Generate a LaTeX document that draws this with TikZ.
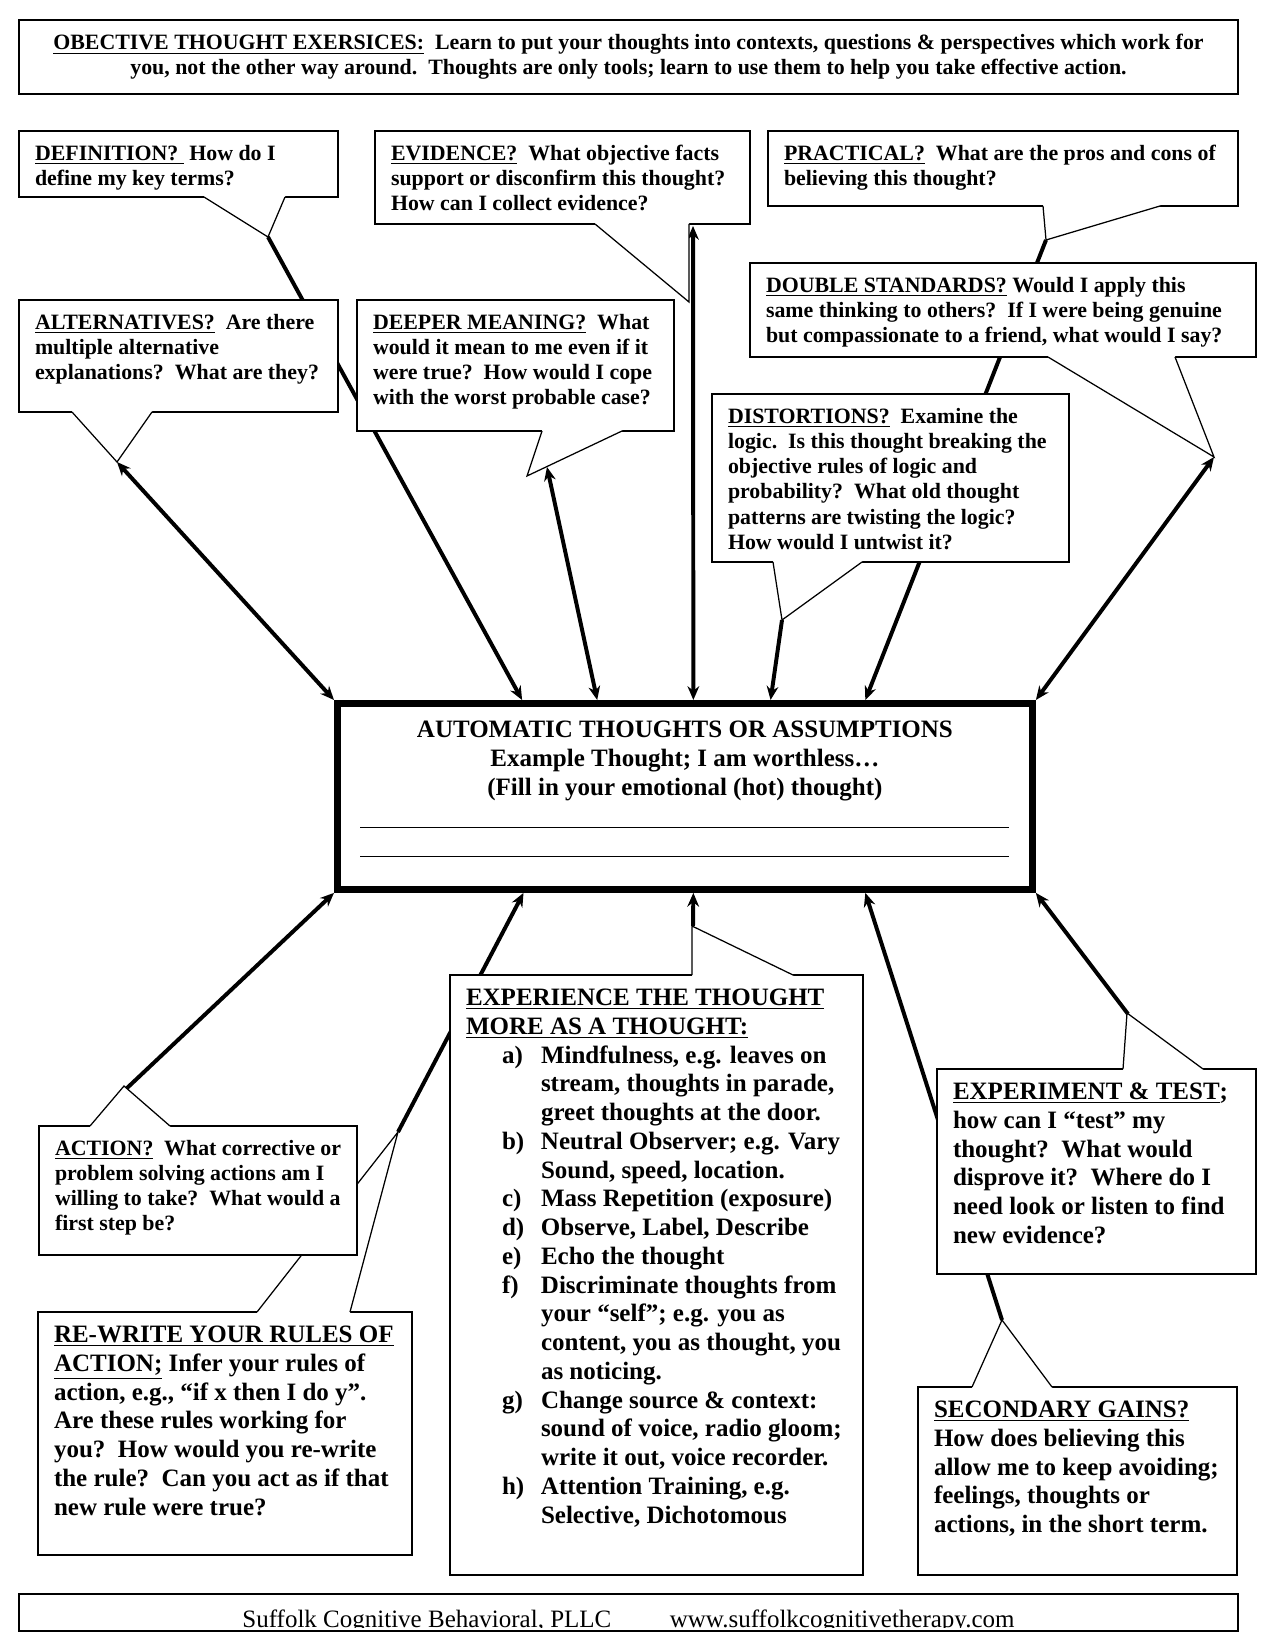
\documentclass[tikz,border=0pt]{standalone}
\usepackage{fontspec}
\setmainfont{Liberation Serif}
\usetikzlibrary{arrows.meta, calc}
\newlength{\px}
\setlength{\px}{0.48pt}
% text block of a callout: width, height (in px), text
\newcommand{\cbox}[3]{\parbox[t][#2\px][t]{#1\px}{\raggedright #3}}
% callout pointer: base point, tip, base point, shift into the box
\newcommand{\tail}[4]{%
  \fill[white] ($#1+#4$) -- #1 -- #2 -- #3 -- ($#3+#4$) -- cycle;
  \draw[tailline] #1 -- #2 -- #3;}
\tikzstyle{callout} = [rectangle, draw=black, line width=0.6pt, fill=white,
anchor=north west, outer sep=0pt,
inner xsep=7.68pt, inner ysep=6.72pt,
font=\fontsize{10.5pt}{12.1pt}\selectfont\bfseries]
\tikzstyle{bigcallout} = [callout, font=\fontsize{12pt}{13.8pt}\selectfont\bfseries]
\tikzstyle{autobox} = [rectangle, draw=black, line width=3.3pt, fill=white,
anchor=north west, inner xsep=7.68pt, inner ysep=8.64pt,
font=\fontsize{12pt}{13.8pt}\selectfont\bfseries]
\tikzstyle{headbox} = [rectangle, draw=black, line width=0.8pt,
minimum width=585.1pt, minimum height=35.5pt, align=center,
font=\fontsize{10.5pt}{12.1pt}\selectfont\bfseries]
\tikzstyle{tailline} = [line width=0.6pt]
\tikzstyle{arrow} = [line width=1.9pt, -{Stealth[length=6.6pt, width=5.6pt]}]
\tikzstyle{dblarrow} = [line width=1.9pt, {Stealth[length=6.6pt, width=5.6pt]}-{Stealth[length=6.6pt, width=5.6pt]}]

\begin{document}
\begin{tikzpicture}[x=0.48pt, y=-0.48pt]
\fill[white] (0,0) rectangle (1275,1650);
\useasboundingbox (0,0) rectangle (1275,1650);

\node (head) [headbox] at (628.5,57) {\underline{OBECTIVE THOUGHT EXERSICES:}\ \ Learn to put your thoughts into contexts, questions \& perspectives which work for\\
you, not the other way around.\ \ Thoughts are only tools; learn to use them to help you take effective action.};

% centre box
\node (auto) [autobox] at (334,700) {\cbox{663}{150}{\centering
AUTOMATIC THOUGHTS OR ASSUMPTIONS\\
Example Thought; I am worthless…\\
(Fill in your emotional (hot) thought)\\
\rule[-2pt]{649\px}{0.5pt}\\
\rule[-2pt]{649\px}{0.5pt}}};

% ends of the arrows at the callouts
\coordinate (altend) at (117,462);
\coordinate (defend) at (268,237);
\coordinate (deepend) at (547,467);
\coordinate (evend) at (693,226);
\coordinate (distend) at (782,620);
\coordinate (practend) at (1046,240);
\coordinate (dsend) at (1214,457);
\coordinate (actend) at (126,1089);
\coordinate (rwend) at (398,1132);
\coordinate (exprend) at (693,926);
\coordinate (secend) at (1002,1320);
\coordinate (exptend) at (1128,1014);

\draw [dblarrow] (altend) -- (auto.north west);
\draw [arrow] (defend) -- ($(auto.north west)!0.268!(auto.north east)$);
\draw [dblarrow] (deepend) -- ($(auto.north west)!0.375!(auto.north east)$);
\draw [dblarrow] (evend) -- ($(auto.north west)!0.512!(auto.north east)$);
\draw [arrow] (distend) -- ($(auto.north west)!0.622!(auto.north east)$);
\draw [arrow] (practend) -- ($(auto.north west)!0.757!(auto.north east)$);
\draw [dblarrow] (dsend) -- (auto.north east);
\draw [arrow] (actend) -- (auto.south west);
\draw [arrow] (rwend) -- ($(auto.south west)!0.270!(auto.south east)$);
\draw [arrow] (exprend) -- ($(auto.south west)!0.512!(auto.south east)$);
\draw [arrow] (secend) -- ($(auto.south west)!0.757!(auto.south east)$);
\draw [arrow] (exptend) -- (auto.south east);

% upper callouts
\node (defn) [callout] at (19,131) {\cbox{287}{38}{\underline{DEFINITION?\ }\ How do I\\
define my key terms?}};
\tail{(204,197)}{(268,237)}{(285,197)}{(0,-3)}

\node (evid) [callout] at (375,131) {\cbox{343}{65}{\underline{EVIDENCE?}\ \ What objective facts\\
support or disconfirm this thought?\\
How can I collect evidence?}};
\tail{(595,224)}{(689,302)}{(689,224)}{(0,-3)}

\node (pract) [callout] at (768,131) {\cbox{438}{47}{\underline{PRACTICAL?}\ \ What are the pros and cons of\\
believing this thought?}};
\tail{(1043,206)}{(1046,240)}{(1160,206)}{(0,-3)}

\node (dstd) [callout] at (750,263) {\cbox{474}{66}{\underline{DOUBLE STANDARDS?} Would I apply this\\
same thinking to others?\ \ If I were being genuine\\
but compassionate to a friend, what would I say?}};
\tail{(1048,357)}{(1214,457)}{(1175,357)}{(0,-3)}

\node (alter) [callout] at (19,300) {\cbox{287}{84}{\underline{ALTERNATIVES?}\ \ Are there\\
multiple alternative\\
explanations?\ \ What are they?}};
\tail{(72,412)}{(117,462)}{(152,412)}{(0,-3)}

\node (deep) [callout] at (357,300) {\cbox{285}{103}{\underline{DEEPER MEANING?}\ \ What\\
would it mean to me even if it\\
were true?\ \ How would I cope\\
with the worst probable case?}};
\tail{(542,431)}{(527,476)}{(622,431)}{(0,-3)}

\node (dist) [callout] at (712,394) {\cbox{325}{140}{\underline{DISTORTIONS?}\ \ Examine the\\
logic.\ \ Is this thought breaking the\\
objective rules of logic and\\
probability?\ \ What old thought\\
patterns are twisting the logic?\\
How would I untwist it?}};
\tail{(773,562)}{(782,620)}{(862,562)}{(0,-3)}

% lower callouts
\node (rewr) [bigcallout] at (38,1312) {\cbox{342}{215}{\underline{RE-WRITE YOUR RULES OF}\\
\underline{ACTION;} Infer your rules of\\
action, e.g., ``if x then I do y''.\\
Are these rules working for\\
you?\ \ How would you re-write\\
the rule?\ \ Can you act as if that\\
new rule were true?}};
\tail{(257,1312)}{(398,1132)}{(350,1312)}{(0,3)}

\node (act) [callout] at (39,1126) {\cbox{286}{101}{\underline{ACTION?}\ \ What corrective or\\
problem solving actions am I\\
willing to take?\ \ What would a\\
first step be?}};
\tail{(90,1126)}{(124,1086)}{(170,1126)}{(0,3)}

\node (expr) [bigcallout] at (450,975) {\cbox{381}{572}{\underline{EXPERIENCE THE THOUGHT}\\
\underline{MORE AS A THOUGHT:}\\
\begin{tabular}[t]{@{\hspace{36\px}}p{39\px}@{}l@{}}
a) & Mindfulness, e.g. leaves on\\
   & stream, thoughts in parade,\\
   & greet thoughts at the door.\\
b) & Neutral Observer; e.g. Vary\\
   & Sound, speed, location.\\
c) & Mass Repetition (exposure)\\
d) & Observe, Label, Describe\\
e) & Echo the thought\\
f) & Discriminate thoughts from\\
   & your ``self''; e.g. you as\\
   & content, you as thought, you\\
   & as noticing.\\
g) & Change source \& context:\\
   & sound of voice, radio gloom;\\
   & write it out, voice recorder.\\
h) & Attention Training, e.g.\\
   & Selective, Dichotomous
\end{tabular}}};
\tail{(692,975)}{(692,926)}{(793,975)}{(0,3)}

\node (expt) [bigcallout] at (937,1069) {\cbox{287}{177}{\underline{EXPERIMENT \& TEST};\\
how can I ``test'' my\\
thought?\ \ What would\\
disprove it?\ \ Where do I\\
need look or listen to find\\
new evidence?}};
\tail{(1123,1069)}{(1127,1013)}{(1203,1069)}{(0,3)}

\node (secg) [bigcallout] at (918,1387) {\cbox{287}{160}{\underline{SECONDARY GAINS?}\\
How does believing this\\
allow me to keep avoiding;\\
feelings, thoughts or\\
actions, in the short term.}};
\tail{(972,1387)}{(1002,1320)}{(1052,1387)}{(0,3)}

% footer
\begin{scope}
\clip (19,1594) rectangle (1238,1627);
\node (foot) [anchor=base, font=\fontsize{12pt}{13.8pt}\selectfont] at (628.5,1627) {Suffolk Cognitive Behavioral, PLLC\hspace{28pt}www.suffolkcognitivetherapy.com};
\end{scope}
\draw [line width=0.8pt] (19,1594) rectangle (1238,1631);
\end{tikzpicture}
\end{document}
